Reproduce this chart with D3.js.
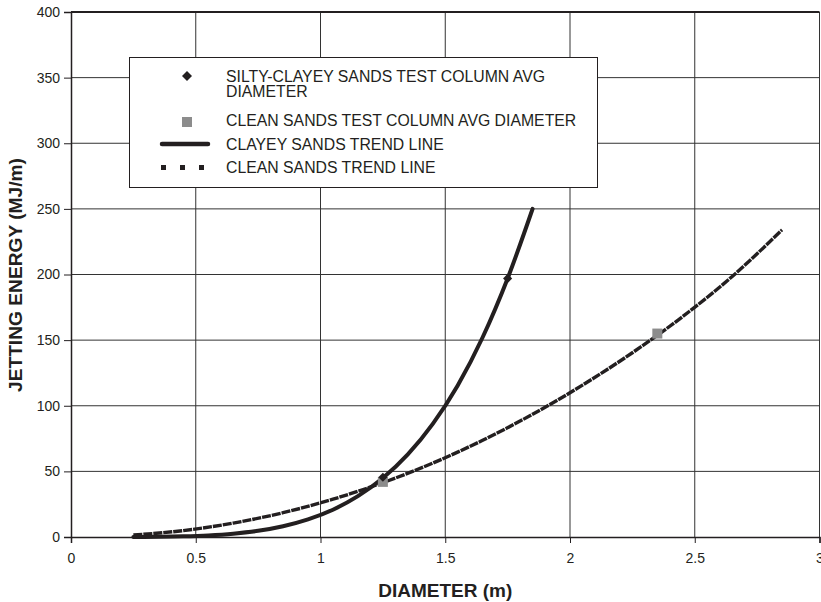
<!DOCTYPE html>
<html>
<head>
<meta charset="utf-8">
<script src="https://cdn.jsdelivr.net/npm/d3@7"></script>
<style>
  body { margin: 0; background: #fff; }
  svg { display: block; font-family: "Liberation Sans", Arial, sans-serif; }
</style>
</head>
<body>
<svg id="chart" width="821" height="602"></svg>
<script>
// Values
const clayeyTrendD = [0.25, 0.35, 0.45, 0.55, 0.65, 0.75, 0.85, 0.95, 1.05, 1.15, 1.25, 1.35, 1.45, 1.55, 1.65, 1.75, 1.85];
const clayeyTrendE = [0.04, 0.17, 0.5, 1.2, 2.5, 4.7, 8.2, 13.4, 20.8, 31.1, 44.9, 62.9, 86.2, 115.5, 152.2, 197, 250];

const cleanTrendD = [0.25, 0.45, 0.65, 0.85, 1.05, 1.25, 1.45, 1.65, 1.85, 2.05, 2.25, 2.45, 2.65, 2.85];
const cleanTrendE = [1.5, 4.9, 10.6, 18.5, 28.8, 41.4, 56.3, 73.7, 93.5, 115.7, 140.4, 167.7, 198.5, 234];

const clayeyPointsD = [1.25, 1.75];
const clayeyPointsE = [45.5, 197];
const cleanPointsD = [1.25, 2.35];
const cleanPointsE = [42, 155];

const xTicks = [0, 0.5, 1, 1.5, 2, 2.5, 3];
const yTicks = [0, 50, 100, 150, 200, 250, 300, 350, 400];

const legendLabels = [
  ['SILTY-CLAYEY SANDS TEST COLUMN AVG', 'DIAMETER'],
  ['CLEAN SANDS TEST COLUMN AVG DIAMETER'],
  ['CLAYEY SANDS TREND LINE'],
  ['CLEAN SANDS TREND LINE']
];

const ink = '#231f20';
const svg = d3.select('#chart');
const margin = { left: 71, right: 1, top: 12, bottom: 65 };
const width = 821, height = 602;

const x = d3.scaleLinear().domain([0, 3]).range([margin.left, width - margin.right - 0.5]);
const y = d3.scaleLinear().domain([0, 400]).range([height - margin.bottom, margin.top]);

// Gridlines
const grid = svg.append('g');
grid.selectAll('line.v')
  .data(xTicks.slice(1))
  .enter().append('line')
  .attr('x1', d => x(d)).attr('x2', d => x(d))
  .attr('y1', y(0)).attr('y2', y(400))
  .attr('stroke', '#333').attr('stroke-width', 1);
grid.selectAll('line.h')
  .data(yTicks.slice(1))
  .enter().append('line')
  .attr('x1', x(0)).attr('x2', x(3))
  .attr('y1', d => y(d)).attr('y2', d => y(d))
  .attr('stroke', d => d === 400 ? ink : '#333')
  .attr('stroke-width', d => d === 400 ? 1.8 : 1);

// Axes
const xAxis = svg.append('g')
  .attr('transform', `translate(0,${y(0)})`)
  .call(d3.axisBottom(x).tickValues(xTicks).tickSize(6).tickPadding(10).tickFormat(d3.format('')));
const yAxis = svg.append('g')
  .attr('transform', `translate(${x(0)},0)`)
  .call(d3.axisLeft(y).tickValues(yTicks).tickSize(7).tickPadding(4));
[xAxis, yAxis].forEach(a => {
  a.select('.domain').attr('stroke', ink).attr('stroke-width', 1.5);
  a.selectAll('.tick line').attr('stroke', ink);
  a.selectAll('.tick text').attr('font-size', 14).attr('fill', ink)
    .attr('font-family', '"Liberation Sans", Arial, sans-serif');
});

// Axis titles
svg.append('text')
  .attr('x', (x(0) + x(3)) / 2).attr('y', 597)
  .attr('text-anchor', 'middle')
  .attr('font-size', 19).attr('font-weight', 'bold').attr('fill', ink)
  .attr('textLength', 134).attr('lengthAdjust', 'spacingAndGlyphs')
  .text('DIAMETER (m)');
svg.append('text')
  .attr('transform', 'translate(22,275) rotate(-90)')
  .attr('text-anchor', 'middle')
  .attr('font-size', 19).attr('font-weight', 'bold').attr('fill', ink)
  .attr('textLength', 234).attr('lengthAdjust', 'spacingAndGlyphs')
  .text('JETTING ENERGY (MJ/m)');

// Trend lines
const line = d3.line().x(d => x(d[0])).y(d => y(d[1])).curve(d3.curveMonotoneX);
const cleanData = cleanTrendD.map((d, i) => [d, cleanTrendE[i]]);
const clayeyData = clayeyTrendD.map((d, i) => [d, clayeyTrendE[i]]);

svg.append('path')
  .datum(cleanData)
  .attr('d', line)
  .attr('fill', 'none')
  .attr('stroke', ink)
  .attr('stroke-width', 3.4)
  .attr('stroke-dasharray', '9,1');

svg.append('path')
  .datum(clayeyData)
  .attr('d', line)
  .attr('fill', 'none')
  .attr('stroke', ink)
  .attr('stroke-width', 4)
  .attr('stroke-linecap', 'round');

// Data markers
svg.selectAll('rect.clean')
  .data(cleanPointsD.map((d, i) => [d, cleanPointsE[i]]))
  .enter().append('rect')
  .attr('x', d => x(d[0]) - 5).attr('y', d => y(d[1]) - 5)
  .attr('width', 10).attr('height', 10)
  .attr('fill', '#8c8c8c');

svg.selectAll('path.clay')
  .data(clayeyPointsD.map((d, i) => [d, clayeyPointsE[i]]))
  .enter().append('path')
  .attr('transform', d => `translate(${x(d[0])},${y(d[1])}) rotate(45)`)
  .attr('d', d3.symbol(d3.symbolSquare, 42))
  .attr('fill', ink);

// Legend
const legend = svg.append('g');
legend.append('rect')
  .attr('x', 129.5).attr('y', 57.5).attr('width', 468).attr('height', 130)
  .attr('fill', '#fff').attr('stroke', ink).attr('stroke-width', 1);

const textX = 226;
const rowBase = [82, 126, 150, 173];
legendLabels.forEach((lines, i) => {
  const t = legend.append('text')
    .attr('x', textX).attr('y', rowBase[i])
    .attr('font-size', 15.8).attr('fill', ink);
  lines.forEach((s, j) => {
    t.append('tspan').attr('x', textX).attr('dy', j === 0 ? 0 : 15).text(s);
  });
});

legend.append('path')
  .attr('transform', 'translate(187,76) rotate(45)')
  .attr('d', d3.symbol(d3.symbolSquare, 50))
  .attr('fill', ink);
legend.append('rect')
  .attr('x', 182).attr('y', 117).attr('width', 10).attr('height', 10)
  .attr('fill', '#8c8c8c');
legend.append('line')
  .attr('x1', 162).attr('x2', 208).attr('y1', 144).attr('y2', 144)
  .attr('stroke', ink).attr('stroke-width', 4.5).attr('stroke-linecap', 'round');
legend.append('line')
  .attr('x1', 161).attr('x2', 212).attr('y1', 167.5).attr('y2', 167.5)
  .attr('stroke', ink).attr('stroke-width', 5).attr('stroke-dasharray', '5,14');
</script>
</body>
</html>
